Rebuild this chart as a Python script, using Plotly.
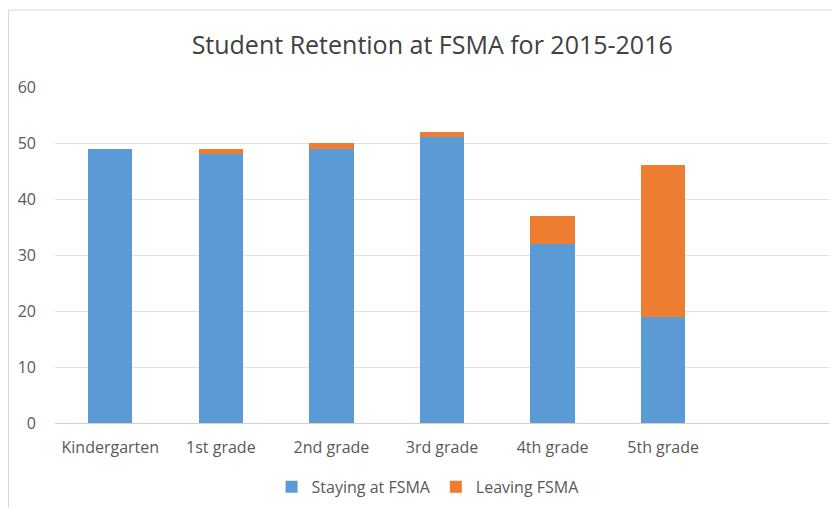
import plotly.graph_objects as go

categories = ["Kindergarten", "1st grade", "2nd grade", "3rd grade", "4th grade", "5th grade"]
staying = [49, 48, 49, 51, 32, 19]
leaving = [0, 1, 1, 1, 5, 27]
y_ticks = [0, 10, 20, 30, 40, 50, 60]

font = "Open Sans, sans-serif"
fig = go.Figure()
fig.add_trace(go.Bar(name="Staying at FSMA", x=categories, y=staying,
                     marker=dict(color="#5B9BD5", line=dict(width=0)), width=0.4))
fig.add_trace(go.Bar(name="Leaving FSMA", x=categories, y=leaving,
                     marker=dict(color="#ED7D31", line=dict(width=0)), width=0.4))

fig.update_layout(
    barmode="stack",
    width=840, height=508,
    margin=dict(l=47, r=19, t=79, b=93, autoexpand=False),
    paper_bgcolor="white", plot_bgcolor="white",
    font=dict(family=font, color="#595959", size=16),
    title=dict(text="Student Retention at FSMA for 2015-2016", x=0.505, xanchor="center",
               y=0.927, yanchor="middle", font=dict(size=25, color="#404040")),
    xaxis=dict(type="category", range=[-0.5, 6.5], showgrid=False, automargin=False,
               showline=True, linecolor="#D0D0D0", linewidth=1, ticks="",
               tickfont=dict(size=16, color="#595959"), ticklabelstandoff=10),
    yaxis=dict(range=[0, 60], tickvals=y_ticks, showgrid=True, gridcolor="#E0E0E0",
               gridwidth=1, zeroline=False, showline=False, ticks="", automargin=False,
               tickfont=dict(size=16, color="#595959"), ticklabelstandoff=18),
    legend=dict(orientation="h", x=0.482, xanchor="center", y=-0.19, yanchor="middle",
                traceorder="normal", font=dict(size=16, color="#595959"), itemwidth=30),
    bargap=0.6,
    shapes=[
        dict(type="line", xref="paper", yref="paper", x0=-0.06, x1=1.03, y0=1.229, y1=1.229,
             line=dict(color="#D9D9D9", width=1)),
        dict(type="line", xref="paper", yref="paper", x0=-0.06, x1=-0.06, y0=1.229, y1=-0.3,
             line=dict(color="#D9D9D9", width=1)),
    ],
)

fig.write_html("out.html")
